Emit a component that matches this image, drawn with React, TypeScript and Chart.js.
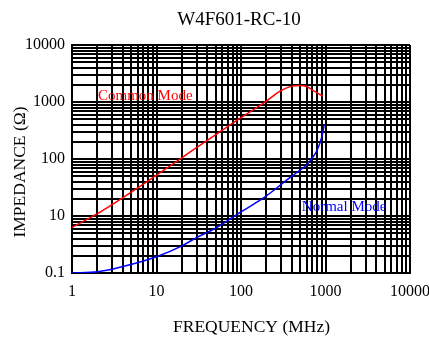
import React, { useEffect, useRef } from "react";
import { Chart, registerables } from "chart.js";

Chart.register(...registerables);

// ---- Text ----
const TITLE = "W4F601-RC-10";
const X_TITLE = "FREQUENCY (MHz)";
const Y_TITLE = "IMPEDANCE (\u03A9)";
const COMMON_LABEL = "Common Mode";
const NORMAL_LABEL = "Normal Mode";

// ---- Axis ticks (decades) ----
const xDecades = [1, 10, 100, 1000, 10000];
const xTickLabels = ["1", "10", "100", "1000", "10000"];
const yDecades = [1, 10, 100, 1000, 10000];
const yTickLabels = ["0.1", "10", "100", "1000", "10000"];

// ---- Series: Common Mode (red) ----
const commonFreq = [1, 2, 4, 10, 20, 30, 60, 100, 150, 200, 300, 400, 500, 600, 700, 800, 930];
const commonZ = [6.3, 11, 21, 52, 105, 160, 320, 530, 780, 1040, 1600, 1900, 1950, 1870, 1620, 1450, 1270];

// ---- Series: Normal Mode (blue) ----
const normalFreq = [1, 2, 4, 10, 20, 30, 50, 100, 200, 300, 400, 500, 600, 700, 800, 900, 970];
const normalZ = [1.0, 1.05, 1.3, 1.93, 3.0, 4.2, 6.1, 11.8, 22.5, 36, 50, 64, 79, 105, 145, 240, 400];

// ---- Label anchors (data space) ----
const commonLabelAt = [2.03, 1085];
const normalLabelAt = [525, 12.2];

const RED = "#ff0000";
const BLUE = "#0000ff";
const FONT = '"Liberation Serif", "Times New Roman", serif';

function logTicks(decades: number[]) {
  const out: { value: number }[] = [];
  for (let i = 0; i < decades.length - 1; i++) {
    for (let m = 1; m <= 9; m++) out.push({ value: decades[i] * m });
  }
  out.push({ value: decades[decades.length - 1] });
  return out;
}

function labelFor(decades: number[], labels: string[], v: number) {
  const i = decades.findIndex((d) => Math.abs(d - v) < 1e-9 * d);
  return i >= 0 ? labels[i] : "";
}

export default function App() {
  const ref = useRef<HTMLCanvasElement>(null);

  useEffect(() => {
    const canvas = ref.current!;
    const textPlugin = {
      id: "texts",
      afterDatasetsDraw(chart: any) {
        const { ctx, scales } = chart;
        const x = scales.x;
        const y = scales.y;
        ctx.save();
        ctx.font = `15px ${FONT}`;
        ctx.textAlign = "left";
        ctx.textBaseline = "alphabetic";
        ctx.fillStyle = RED;
        ctx.fillText(COMMON_LABEL, x.getPixelForValue(commonLabelAt[0]), y.getPixelForValue(commonLabelAt[1]));
        ctx.fillStyle = BLUE;
        ctx.fillText(NORMAL_LABEL, x.getPixelForValue(normalLabelAt[0]), y.getPixelForValue(normalLabelAt[1]));
        ctx.restore();
      },
      afterDraw(chart: any) {
        const { ctx, chartArea } = chart;
        const cx = (chartArea.left + chartArea.right) / 2;
        const cy = (chartArea.top + chartArea.bottom) / 2;
        ctx.save();
        ctx.fillStyle = "#000";
        ctx.textBaseline = "alphabetic";
        ctx.textAlign = "center";
        ctx.font = `19px ${FONT}`;
        ctx.fillText(TITLE, cx - 2, 25);
        ctx.font = `17.5px ${FONT}`;
        ctx.fillText(X_TITLE, cx + 10.5, 332);
        ctx.translate(25, cy + 13);
        ctx.rotate(-Math.PI / 2);
        ctx.fillText(Y_TITLE, 0, 0);
        ctx.restore();
      },
    };

    const chart = new Chart(canvas, {
      type: "line",
      data: {
        datasets: [
          {
            label: COMMON_LABEL,
            data: commonFreq.map((f, i) => ({ x: f, y: commonZ[i] })),
            borderColor: RED,
            borderWidth: 1.5,
            pointRadius: 0,
            fill: false,
            cubicInterpolationMode: "monotone",
          },
          {
            label: NORMAL_LABEL,
            data: normalFreq.map((f, i) => ({ x: f, y: normalZ[i] })),
            borderColor: BLUE,
            borderWidth: 1.5,
            pointRadius: 0,
            fill: false,
            cubicInterpolationMode: "monotone",
          },
        ],
      },
      plugins: [textPlugin],
      options: {
        responsive: false,
        animation: false,
        layout: { padding: { left: 0, top: 45, right: 19, bottom: 0 } },
        plugins: {
          legend: { display: false },
          title: { display: false },
          tooltip: { enabled: false },
        },
        scales: {
          x: {
            type: "logarithmic",
            min: 1,
            max: 10000,
            z: 1,
            afterBuildTicks: (s: any) => {
              s.ticks = logTicks(xDecades);
            },
            afterFit: (s: any) => {
              s.height = 65;
              s.paddingLeft = 0;
              s.paddingRight = 0;
            },
            grid: { color: "#000", lineWidth: 2, drawTicks: false },
            border: { display: true, color: "#000", width: 2 },
            ticks: {
              autoSkip: false,
              maxRotation: 0,
              padding: 9,
              color: "#000",
              font: { family: FONT, size: 16 },
              callback: (v: any) => labelFor(xDecades, xTickLabels, Number(v)),
            },
          },
          y: {
            type: "logarithmic",
            min: 1,
            max: 10000,
            z: 1,
            afterBuildTicks: (s: any) => {
              s.ticks = logTicks(yDecades);
            },
            afterFit: (s: any) => {
              s.width = 72;
              s.paddingTop = 0;
              s.paddingBottom = 0;
            },
            grid: { color: "#000", lineWidth: 2, drawTicks: false },
            border: { display: true, color: "#000", width: 2 },
            ticks: {
              autoSkip: false,
              padding: 7,
              color: "#000",
              font: { family: FONT, size: 16 },
              callback: (v: any) => labelFor(yDecades, yTickLabels, Number(v)),
            },
          },
        },
      } as any,
    });
    return () => chart.destroy();
  }, []);

  return (
    <div style={{ position: "absolute", left: 0, top: 0, width: 429, height: 338, background: "#fff" }}>
      <canvas ref={ref} width={429} height={338} style={{ display: "block" }} />
    </div>
  );
}
